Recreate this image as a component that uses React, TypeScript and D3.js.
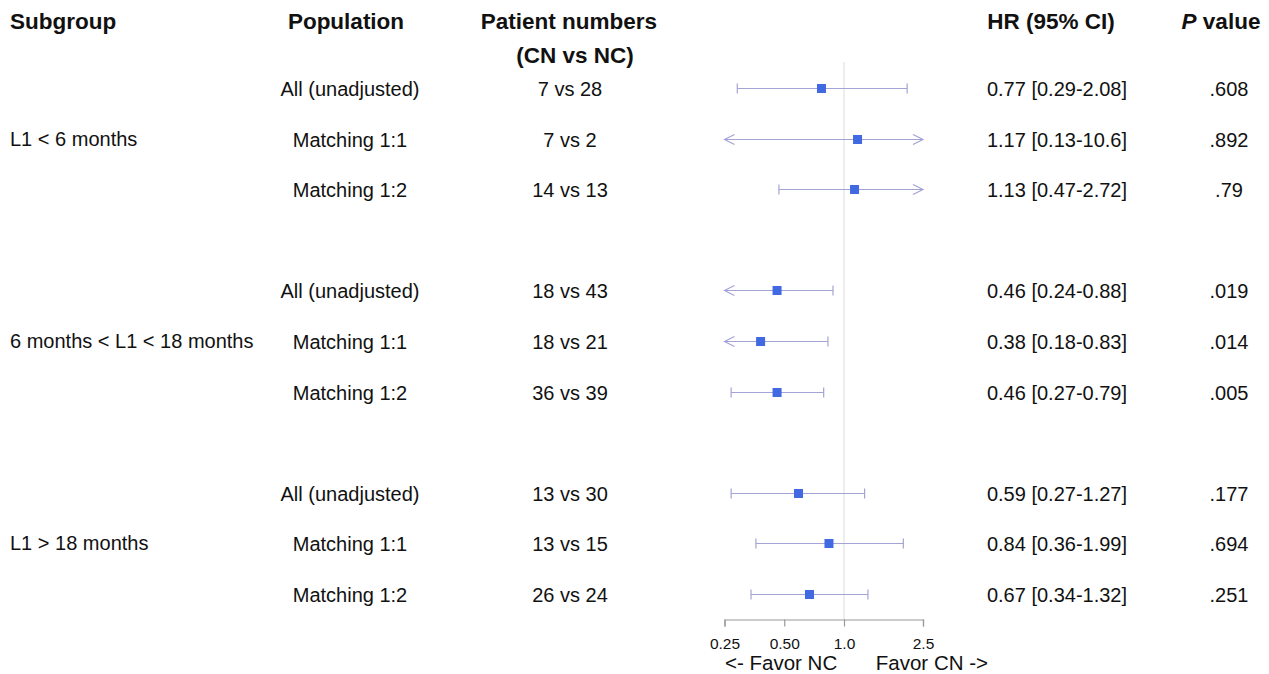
import React, { useEffect, useRef } from "react";
import * as d3 from "d3";

const subgroups = ["L1 < 6 months", "6 months < L1 < 18 months", "L1 > 18 months"];
const populations = [
  "All (unadjusted)", "Matching 1:1", "Matching 1:2",
  "All (unadjusted)", "Matching 1:1", "Matching 1:2",
  "All (unadjusted)", "Matching 1:1", "Matching 1:2",
];
const patientNumbers = [
  "7 vs 28", "7 vs 2", "14 vs 13",
  "18 vs 43", "18 vs 21", "36 vs 39",
  "13 vs 30", "13 vs 15", "26 vs 24",
];
const hr = [0.77, 1.17, 1.13, 0.46, 0.38, 0.46, 0.59, 0.84, 0.67];
const lower = [0.29, 0.13, 0.47, 0.24, 0.18, 0.27, 0.27, 0.36, 0.34];
const upper = [2.08, 10.6, 2.72, 0.88, 0.83, 0.79, 1.27, 1.99, 1.32];
const hrLabels = [
  "0.77 [0.29-2.08]", "1.17 [0.13-10.6]", "1.13 [0.47-2.72]",
  "0.46 [0.24-0.88]", "0.38 [0.18-0.83]", "0.46 [0.27-0.79]",
  "0.59 [0.27-1.27]", "0.84 [0.36-1.99]", "0.67 [0.34-1.32]",
];
const pValues = [".608", ".892", ".79", ".019", ".014", ".005", ".177", ".694", ".251"];
const tickValues = [0.25, 0.5, 1.0, 2.5];
const tickLabels = ["0.25", "0.50", "1.0", "2.5"];

const W = 1269;
const H = 674;
const FONT = "'Liberation Sans', Arial, Helvetica, sans-serif";

export default function App() {
  const axisRef = useRef<SVGGElement>(null);

  const x = d3.scaleLog().domain([0.25, 2.5]).range([724.5, 923]);
  // row slots: 3 groups of 3 rows with one blank slot between groups
  const y = d3.scaleLinear().domain([0, 10]).range([88, 594]);
  const rowIndex = (i: number) => Math.floor(i / 3) * 4 + (i % 3);
  const axisY = 619.5;

  useEffect(() => {
    if (!axisRef.current) return;
    const g = d3.select(axisRef.current);
    g.selectAll("*").remove();
    const axis = d3
      .axisBottom(x)
      .tickValues(tickValues)
      .tickFormat((_d, i) => tickLabels[i])
      .tickSizeInner(7)
      .tickSizeOuter(7)
      .tickPadding(11);
    g.call(axis as any);
    g.select(".domain").attr("stroke", "#999").attr("stroke-width", 1.2);
    g.selectAll(".tick line").attr("stroke", "#999").attr("stroke-width", 1.2);
    g.selectAll(".tick text")
      .attr("fill", "#111")
      .style("font-size", "15.5px")
      .style("font-family", FONT);
  }, []);

  const lineColor = "#a3a3d6";
  const arrowW = 10;
  const arrowH = 5;
  const capH = 5;
  const sq = 9;
  const [xmin, xmax] = x.domain();

  return (
    <svg
      width={W}
      height={H}
      style={{ position: "absolute", left: 0, top: 0, background: "#fff" }}
      fontFamily={FONT}
    >
      {/* headers */}
      <g fontWeight="bold" fontSize={22.5} fill="#111">
        <text x={10} y={29}>Subgroup</text>
        <text x={346} y={29} textAnchor="middle">Population</text>
        <text x={569} y={29} textAnchor="middle">Patient numbers</text>
        <text x={575} y={63} textAnchor="middle">(CN vs NC)</text>
        <text x={1051} y={29} textAnchor="middle">HR (95% CI)</text>
        <text x={1221} y={29} textAnchor="middle">
          <tspan fontStyle="italic">P</tspan> value
        </text>
      </g>

      {/* reference line at HR = 1 */}
      <line x1={x(1)} x2={x(1)} y1={62} y2={axisY} stroke="#e3e3e3" strokeWidth={1.2} />

      {/* subgroup labels */}
      <g fontSize={20} fill="#111">
        {subgroups.map((s, g) => (
          <text key={s} x={10} y={y(g * 4 + 1)} dy="0.35em">{s}</text>
        ))}
      </g>

      {/* rows */}
      {hr.map((v, i) => {
        const cy = Math.round(y(rowIndex(i))) + 0.5;
        const lo = Math.max(lower[i], xmin);
        const hi = Math.min(upper[i], xmax);
        const xl = x(lo);
        const xh = x(hi);
        return (
          <g key={i}>
            <text x={350} y={cy} dy="0.35em" fontSize={20} textAnchor="middle" fill="#111">{populations[i]}</text>
            <text x={570} y={cy} dy="0.35em" fontSize={20} textAnchor="middle" fill="#111">{patientNumbers[i]}</text>
            <text x={1057} y={cy} dy="0.35em" fontSize={20} textAnchor="middle" fill="#111">{hrLabels[i]}</text>
            <text x={1229} y={cy} dy="0.35em" fontSize={20} textAnchor="middle" fill="#111">{pValues[i]}</text>
            <line x1={xl} x2={xh} y1={cy} y2={cy} stroke={lineColor} strokeWidth={1.2} />
            {lower[i] < xmin ? (
              <polyline
                points={`${xl + arrowW},${cy - arrowH} ${xl},${cy} ${xl + arrowW},${cy + arrowH}`}
                fill="none" stroke={lineColor} strokeWidth={1.2}
              />
            ) : (
              <line x1={xl} x2={xl} y1={cy - capH} y2={cy + capH} stroke={lineColor} strokeWidth={1.2} />
            )}
            {upper[i] > xmax ? (
              <polyline
                points={`${xh - arrowW},${cy - arrowH} ${xh},${cy} ${xh - arrowW},${cy + arrowH}`}
                fill="none" stroke={lineColor} strokeWidth={1.2}
              />
            ) : (
              <line x1={xh} x2={xh} y1={cy - capH} y2={cy + capH} stroke={lineColor} strokeWidth={1.2} />
            )}
            <rect x={x(v) - sq / 2} y={cy - sq / 2} width={sq} height={sq} fill="#4169E1" />
          </g>
        );
      })}

      {/* axis */}
      <g ref={axisRef} transform={`translate(0,${axisY})`} />

      {/* favor labels */}
      <g fontSize={20.5} fill="#111">
        <text x={725} y={670}>{"<- Favor NC"}</text>
        <text x={988} y={670} textAnchor="end">{"Favor CN ->"}</text>
      </g>
    </svg>
  );
}
